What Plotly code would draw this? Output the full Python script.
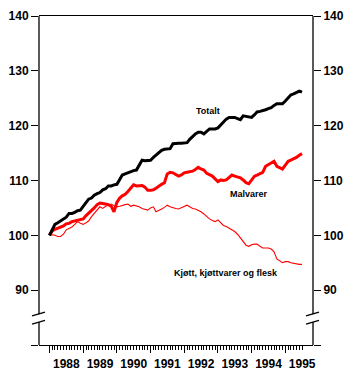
import plotly.graph_objects as go
import pandas as pd

# Monthly index values, Jan 1988 = 100 (Jan 1988 .. Jul 1995)
start = "1988-01-01"
n_months = 91

totalt = [
    100, 101, 102, 102.3, 102.6, 103, 103.3, 104, 104, 104.2, 104.5, 104.6,
    105.3, 106, 106.6, 106.8, 107.3, 107.6, 107.8, 108.3, 108.5, 109, 109, 109.2,
    109.3, 110.2, 111, 111.2, 111.4, 111.7, 111.8, 111.9, 112.8, 113.7, 113.6, 113.7,
    113.7, 114.2, 114.6, 115, 115.5, 115.7, 115.8, 115.8, 116.7, 116.8, 116.8, 116.8,
    116.9, 116.9, 117.5, 118.1, 118.5, 118.8, 118.8, 118.5, 119, 119.4, 119.4, 119.4,
    119.6, 120.2, 120.8, 121.2, 121.5, 121.5, 121.5, 121.3, 121.1, 121.8, 121.7, 121.5,
    121.5, 122, 122.5, 122.6, 122.7, 122.9, 123.1, 123.3, 123.7, 124, 124, 124,
    124.5, 125.1, 125.6, 125.8, 126.1, 126.3, 126.1,
]

malvarer = [
    100, 100.8, 101.1, 101.3, 101.5, 101.7, 102.1, 102.2, 102.5, 102.6, 102.8, 102.9,
    103, 103.6, 104, 104.5, 105, 105.6, 105.9, 105.8, 105.7, 105.6, 105.3, 104.3,
    106, 106.8, 107.2, 107.5, 108, 108.6, 109.2, 109, 109, 109.1, 108.8, 108.2,
    108.2, 108.3, 108.6, 109, 109.3, 109.6, 111.2, 111.5, 111.4, 111.1, 110.8, 111,
    111.4, 111.5, 111.6, 111.7, 112, 112.4, 112.1, 111.9, 111.3, 111, 110.8, 110.3,
    109.8, 110.1, 110, 110.1, 110.6, 111, 110.8, 110.6, 110.5, 110.1, 109.6, 109.4,
    110.2, 110.8, 111, 111.3, 111.5, 112.6, 112.9, 113.3, 113.5, 112.6, 112.3, 112.1,
    112.8, 113.5, 113.7, 113.9, 114.2, 114.6, 114.9,
]

kjott = [
    100, 100.1, 100, 99.8, 99.8, 100.2, 101, 101.3, 101.5, 102, 102.5, 102.2,
    102, 102.3, 102.6, 103.4, 104, 104.6, 105.2, 104.9, 105.3, 105.5, 105.7, 105.4,
    105.2, 105.3, 105.5, 105.6, 105.7, 105.3, 105.5, 105.4, 105.2, 104.9, 104.7, 104.6,
    105, 105.2, 104.3, 104.5, 104.8, 105.1, 105.5, 105.2, 105, 104.9, 104.8, 105,
    105.2, 105.5, 105.2, 104.9, 104.8, 104.6, 104.3, 103.9, 103.4, 103, 102.7, 102.5,
    102.8, 102.2, 101.8, 101.6, 101.3, 101.1, 100.7, 100.2, 99.5, 98.9, 98.2, 98,
    98.3, 98.4, 98.4, 98, 97.7, 97.7, 97.7, 97.5, 97, 95.7, 95.3, 95,
    95.2, 95.2, 95, 94.9, 94.7, 94.7, 94.7,
]

y_tickvals = [80, 90, 100, 110, 120, 130, 140]
y_ticktext = ["", "90", "100", "110", "120", "130", "140"]

labels = ["Totalt", "Malvarer", "Kjøtt, kjøttvarer og flesk"]

dates = pd.date_range(start, periods=n_months, freq="MS")

fig = go.Figure()
fig.add_trace(go.Scatter(x=dates, y=kjott, mode="lines",
                         line=dict(color="#ff0000", width=1.1), hoverinfo="skip"))
fig.add_trace(go.Scatter(x=dates, y=malvarer, mode="lines",
                         line=dict(color="#ff0000", width=3), hoverinfo="skip"))
fig.add_trace(go.Scatter(x=dates, y=totalt, mode="lines",
                         line=dict(color="#000000", width=3), hoverinfo="skip"))
# invisible trace to activate mirrored right y-axis
fig.add_trace(go.Scatter(x=dates, y=totalt, mode="lines", yaxis="y2",
                         line=dict(width=0), opacity=0, hoverinfo="skip"))

tickfont = dict(family="Liberation Sans, Arial, sans-serif", size=12,
                color="black", weight="bold")

yax = dict(range=[80, 140], tickmode="array", tickvals=y_tickvals,
           ticktext=y_ticktext, ticks="outside", ticklen=7, tickwidth=1.2,
           tickcolor="black", showline=False, showgrid=False, zeroline=False,
           tickfont=tickfont)

fig.update_layout(
    width=353, height=380,
    margin=dict(l=39, r=40, t=9, b=33),
    paper_bgcolor="white", plot_bgcolor="white",
    showlegend=False,
    xaxis=dict(
        type="date",
        range=["1987-09-10", "1995-10-28"],
        tick0="1988-01-01", dtick="M12", ticklabelmode="period",
        tickformat="%Y", ticks="outside", ticklen=7, tickwidth=1.2,
        tickcolor="black", showline=True, linecolor="black", linewidth=1.3,
        mirror=True, showgrid=False, zeroline=False, tickfont=tickfont,
        minor=dict(tickmode="array", tickvals=list(dates), ticks="outside",
                   ticklen=4, tickwidth=1, tickcolor="black"),
    ),
    yaxis=yax,
    yaxis2=dict(yax, overlaying="y", side="right", anchor="x"),
)

# axis lines with break marks
brk_lo, brk_hi = 84.2, 85.6
for xp in (0, 1):
    fig.add_shape(type="line", xref="paper", yref="y", x0=xp, x1=xp,
                  y0=brk_hi, y1=140, line=dict(color="black", width=1.3))
    fig.add_shape(type="line", xref="paper", yref="y", x0=xp, x1=xp,
                  y0=80, y1=brk_lo, line=dict(color="black", width=1.3))
    for ya, yb in ((85.3, 86.0), (83.8, 84.5)):
        fig.add_shape(type="line", xref="paper", yref="y",
                      xsizemode="pixel", xanchor=xp, x0=-7, x1=6,
                      y0=ya, y1=yb, line=dict(color="black", width=1.3))

annfont = dict(family="Liberation Sans, Arial, sans-serif", size=9,
               color="black", weight="bold")
fig.add_annotation(x="1992-09-15", y=122.6, text=labels[0], showarrow=False,
                   font=annfont, xanchor="center", yanchor="middle")
fig.add_annotation(x="1993-12-01", y=107.6, text=labels[1], showarrow=False,
                   font=annfont, xanchor="center", yanchor="middle")
fig.add_annotation(x="1993-04-01", y=93.1, text=labels[2], showarrow=False,
                   font=annfont, xanchor="center", yanchor="middle")

fig.write_html("out.html")
